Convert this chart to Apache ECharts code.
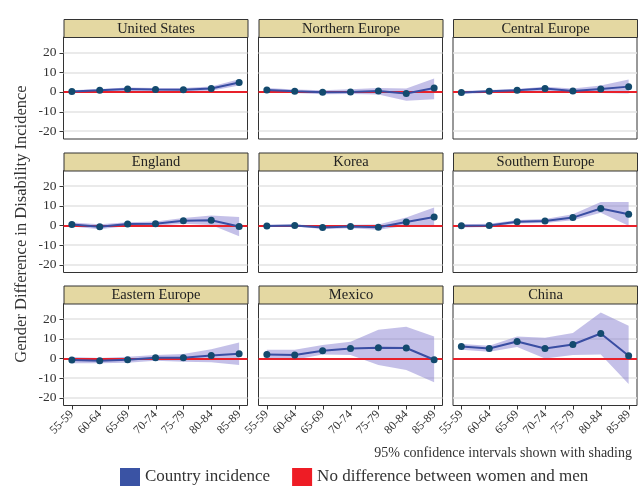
<!DOCTYPE html>
<html>
<head>
<meta charset="utf-8">
<script src="https://cdn.jsdelivr.net/npm/echarts@6/dist/echarts.min.js"></script>
<style>
  html, body { margin: 0; padding: 0; background: #fff; }
  #chart { width: 641px; height: 488px; }
</style>
</head>
<body>
<div id="chart"></div>
<script>
// age groups on the x axis
const ages = ['55-59', '60-64', '65-69', '70-74', '75-79', '80-84', '85-89']
const yTicks = [-20, -10, 0, 10, 20]
const gridLines = [-20, -10, 10, 20]

// point estimates and 95% CI bounds
const usEst = [0.2, 0.8, 1.5, 1.2, 1.1, 1.7, 4.8]
const usLow = [-0.5, 0.0, 0.6, 0.3, 0.2, 0.6, 3.3]
const usHigh = [0.9, 1.5, 2.3, 2.0, 2.0, 2.8, 6.5]

const neEst = [1.0, 0.3, -0.2, 0.0, 0.5, -0.8, 2.0]
const neLow = [-0.3, -0.5, -1.2, -1.0, -1.3, -4.5, -3.7]
const neHigh = [2.0, 1.2, 0.8, 1.3, 2.0, 1.7, 6.8]

const ceEst = [-0.3, 0.3, 0.8, 1.7, 0.5, 1.5, 2.7]
const ceLow = [-1.0, -0.4, 0.0, 0.6, -0.5, -0.6, -0.8]
const ceHigh = [0.5, 1.0, 1.5, 2.7, 1.8, 3.3, 6.3]

const enEst = [0.5, -0.7, 0.7, 0.9, 2.4, 2.6, -0.5]
const enLow = [-0.5, -2.0, -0.3, -0.2, 0.8, 0.2, -5.5]
const enHigh = [1.5, 0.6, 1.6, 2.0, 3.8, 5.0, 4.3]

const koEst = [-0.3, 0.0, -1.0, -0.5, -0.9, 1.7, 4.3]
const koLow = [-0.8, -0.5, -1.8, -1.5, -2.2, -0.2, -0.5]
const koHigh = [0.3, 0.5, -0.2, 0.4, 0.5, 4.0, 9.1]

const seEst = [-0.2, 0.0, 1.9, 2.2, 4.0, 8.6, 5.7]
const seLow = [-1.0, -0.8, 1.0, 1.2, 2.6, 6.4, -0.2]
const seHigh = [0.6, 0.8, 2.8, 3.3, 5.7, 11.9, 11.9]

const eeEst = [-0.8, -1.2, -0.7, 0.3, 0.3, 1.5, 2.4]
const eeLow = [-2.4, -2.5, -2.2, -1.2, -1.7, -2.0, -3.4]
const eeHigh = [0.7, 0.2, 0.8, 1.8, 2.2, 4.7, 8.1]

const mxEst = [2.0, 1.7, 3.9, 5.1, 5.4, 5.3, -0.7]
const mxLow = [0.0, -0.7, 2.0, 1.7, -3.4, -5.9, -12.2]
const mxHigh = [4.4, 4.4, 6.9, 8.5, 14.6, 16.1, 11.2]

const cnEst = [6.1, 5.1, 8.6, 5.1, 7.1, 12.7, 1.4]
const cnLow = [4.4, 3.4, 5.8, 0.0, 1.7, 2.0, -13.0]
const cnHigh = [7.3, 6.4, 11.2, 10.5, 12.9, 23.4, 16.6]

const panels = [
  { name: 'United States', est: usEst, low: usLow, high: usHigh },
  { name: 'Northern Europe', est: neEst, low: neLow, high: neHigh },
  { name: 'Central Europe', est: ceEst, low: ceLow, high: ceHigh },
  { name: 'England', est: enEst, low: enLow, high: enHigh },
  { name: 'Korea', est: koEst, low: koLow, high: koHigh },
  { name: 'Southern Europe', est: seEst, low: seLow, high: seHigh },
  { name: 'Eastern Europe', est: eeEst, low: eeLow, high: eeHigh },
  { name: 'Mexico', est: mxEst, low: mxLow, high: mxHigh },
  { name: 'China', est: cnEst, low: cnLow, high: cnHigh }
]

const FONT = '"Liberation Serif", "DejaVu Serif", serif'
const colLeft = [63.5, 258.5, 453]
const rowTop = [37, 170.5, 303.5]
const plotW = 184
const plotH = 102
const stripH = 18
const TICK = 4
// data range of each panel
const yMin = -24, yMax = 28
const xMin = -0.3, xMax = 6.3

const chart = echarts.init(document.getElementById('chart'))

const grids = []
const xAxes = []
const yAxes = []
const series = []
const graphics = []

// one polygon per panel: upper bound left->right, lower bound right->left
function bandRenderer(low, high) {
  return function (params, api) {
    if (params.dataIndex !== 0) return null
    const pts = []
    for (let j = 0; j < high.length; j++) pts.push(api.coord([j, high[j]]))
    for (let j = low.length - 1; j >= 0; j--) pts.push(api.coord([j, low[j]]))
    return {
      type: 'polygon',
      shape: { points: pts },
      style: { fill: 'rgba(125,115,205,0.45)' }
    }
  }
}

// short outward tick at each axis value
function yTickRenderer(params, api) {
  const p = api.coord([xMin, api.value(0)])
  const y = Math.round(p[1]) + 0.5
  return {
    type: 'line',
    shape: { x1: p[0] - TICK, y1: y, x2: p[0], y2: y },
    style: { stroke: '#333', lineWidth: 1 }
  }
}
function xTickRenderer(params, api) {
  const p = api.coord([api.value(0), yMin])
  const x = Math.round(p[0]) + 0.5
  return {
    type: 'line',
    shape: { x1: x, y1: p[1], x2: x, y2: p[1] + TICK },
    style: { stroke: '#333', lineWidth: 1 }
  }
}

const hidden = { show: false }

panels.forEach((p, i) => {
  const col = i % 3
  const row = Math.floor(i / 3)
  const left = colLeft[col]
  const top = rowTop[row]

  grids.push({
    left: left, top: top, width: plotW, height: plotH,
    show: true, borderColor: '#333', borderWidth: 1
  })
  xAxes.push({
    type: 'value', gridIndex: i, min: xMin, max: xMax,
    splitLine: hidden, axisLine: hidden, axisTick: hidden,
    axisLabel: {
      show: row === 2, customValues: [0, 1, 2, 3, 4, 5, 6],
      formatter: v => ages[v], rotate: 45, margin: 7,
      fontFamily: FONT, fontSize: 12, color: '#333'
    }
  })
  yAxes.push({
    type: 'value', gridIndex: i, min: yMin, max: yMax,
    splitLine: hidden, axisLine: hidden, axisTick: hidden,
    axisLabel: {
      show: col === 0, customValues: yTicks, margin: 7,
      fontFamily: FONT, fontSize: 13.5, color: '#333'
    }
  })

  // confidence band; also carries the light grid lines
  series.push({
    type: 'custom', xAxisIndex: i, yAxisIndex: i,
    data: p.low.map((v, j) => [j, v, p.high[j]]),
    renderItem: bandRenderer(p.low, p.high),
    silent: true, z: 2,
    markLine: {
      silent: true, symbol: 'none', z: 1, animation: false,
      label: { show: false },
      lineStyle: { color: '#e3e3e3', width: 1.5, type: 'solid' },
      data: gridLines.map(v => ({ yAxis: v }))
    }
  })
  // zero reference line
  series.push({
    type: 'line', name: 'No difference between women and men',
    xAxisIndex: i, yAxisIndex: i, data: [],
    itemStyle: { color: '#ee1c25' },
    markLine: {
      silent: true, symbol: 'none', z: 3, animation: false,
      label: { show: false },
      lineStyle: { color: '#e8202a', width: 2, type: 'solid' },
      data: [{ yAxis: 0 }]
    }
  })
  // point estimates
  series.push({
    type: 'line', name: 'Country incidence',
    xAxisIndex: i, yAxisIndex: i,
    data: p.est.map((v, j) => [j, v]),
    symbol: 'circle', symbolSize: 7, z: 4,
    itemStyle: { color: '#134a6e' },
    lineStyle: { color: '#3a4ea3', width: 2 }
  })

  // axis ticks, placed through the panel's own scales
  if (col === 0) {
    series.push({
      type: 'custom', xAxisIndex: i, yAxisIndex: i, clip: false,
      silent: true, z: 5, data: yTicks.map(v => [v]),
      encode: { y: 0 }, renderItem: yTickRenderer
    })
  }
  if (row === 2) {
    series.push({
      type: 'custom', xAxisIndex: i, yAxisIndex: i, clip: false,
      silent: true, z: 5, data: ages.map((a, j) => [j]),
      encode: { x: 0 }, renderItem: xTickRenderer
    })
  }

  // facet strip
  graphics.push({
    type: 'group', left: left, top: top - stripH,
    children: [
      { type: 'rect', shape: { x: 0, y: 0, width: plotW, height: stripH },
        style: { fill: '#e4d8a2', stroke: '#333', lineWidth: 1 } },
      { type: 'text', x: plotW / 2, y: stripH / 2 + 0.5,
        style: { text: p.name, fill: '#222', font: '14.5px ' + FONT,
                 textAlign: 'center', textVerticalAlign: 'middle' } }
    ]
  })
})

graphics.push({
  type: 'text', x: 22, y: 224, rotation: Math.PI / 2,
  style: { text: 'Gender Difference in Disability Incidence', fill: '#333',
           font: '16.5px ' + FONT, textAlign: 'center', textVerticalAlign: 'middle' }
})
graphics.push({
  type: 'text', x: 632, y: 453,
  style: { text: '95% confidence intervals shown with shading', fill: '#333',
           font: '14px ' + FONT, textAlign: 'right', textVerticalAlign: 'middle' }
})

chart.setOption({
  animation: false,
  grid: grids,
  xAxis: xAxes,
  yAxis: yAxes,
  series: series,
  graphic: graphics,
  legend: {
    left: 120, top: 468, padding: 0, icon: 'rect',
    itemWidth: 20, itemHeight: 18, itemGap: 22,
    selectedMode: false,
    textStyle: { fontFamily: FONT, fontSize: 17, color: '#333' },
    data: [
      { name: 'Country incidence', itemStyle: { color: '#3a53a4' } },
      { name: 'No difference between women and men', itemStyle: { color: '#ee1c25' } }
    ]
  }
})
</script>
</body>
</html>
